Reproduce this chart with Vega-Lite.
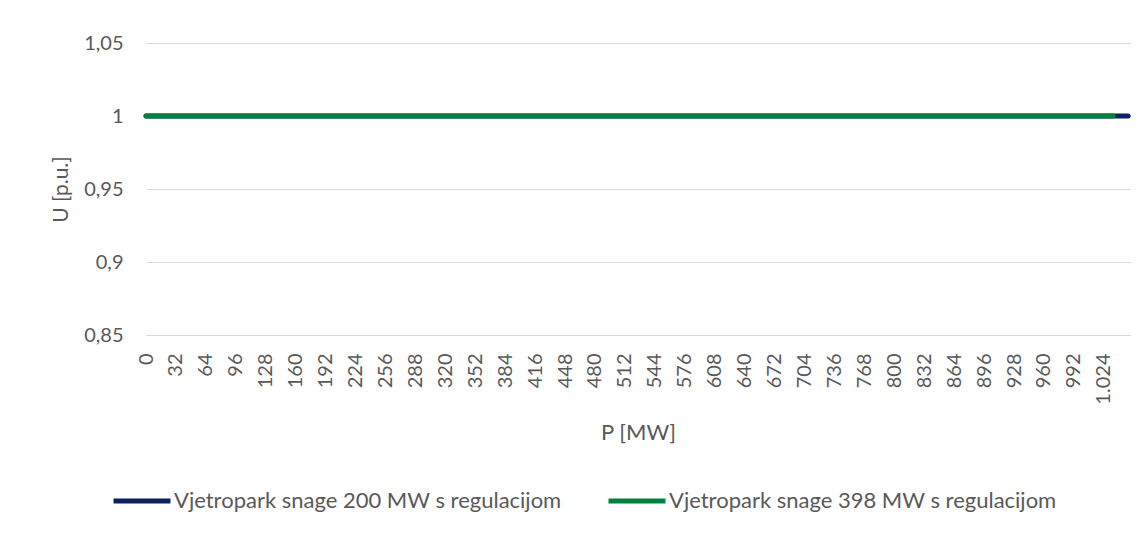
{
  "$schema": "https://vega.github.io/schema/vega-lite/v6.json",
  "width": 984,
  "height": 292,
  "autosize": {"type": "none"},
  "padding": {"left": 146, "top": 43, "right": 17, "bottom": 199},
  "background": "white",
  "data": {
    "values": [
      {"P": 0, "U": 1, "serie": "Vjetropark snage 200 MW s regulacijom"},
      {"P": 128, "U": 1, "serie": "Vjetropark snage 200 MW s regulacijom"},
      {"P": 256, "U": 1, "serie": "Vjetropark snage 200 MW s regulacijom"},
      {"P": 384, "U": 1, "serie": "Vjetropark snage 200 MW s regulacijom"},
      {"P": 512, "U": 1, "serie": "Vjetropark snage 200 MW s regulacijom"},
      {"P": 640, "U": 1, "serie": "Vjetropark snage 200 MW s regulacijom"},
      {"P": 768, "U": 1, "serie": "Vjetropark snage 200 MW s regulacijom"},
      {"P": 896, "U": 1, "serie": "Vjetropark snage 200 MW s regulacijom"},
      {"P": 1024, "U": 1, "serie": "Vjetropark snage 200 MW s regulacijom"},
      {"P": 1050, "U": 1, "serie": "Vjetropark snage 200 MW s regulacijom"},
      {"P": 0, "U": 1, "serie": "Vjetropark snage 398 MW s regulacijom"},
      {"P": 128, "U": 1, "serie": "Vjetropark snage 398 MW s regulacijom"},
      {"P": 256, "U": 1, "serie": "Vjetropark snage 398 MW s regulacijom"},
      {"P": 384, "U": 1, "serie": "Vjetropark snage 398 MW s regulacijom"},
      {"P": 512, "U": 1, "serie": "Vjetropark snage 398 MW s regulacijom"},
      {"P": 640, "U": 1, "serie": "Vjetropark snage 398 MW s regulacijom"},
      {"P": 768, "U": 1, "serie": "Vjetropark snage 398 MW s regulacijom"},
      {"P": 896, "U": 1, "serie": "Vjetropark snage 398 MW s regulacijom"},
      {"P": 1024, "U": 1, "serie": "Vjetropark snage 398 MW s regulacijom"},
      {"P": 1034, "U": 1, "serie": "Vjetropark snage 398 MW s regulacijom"}
    ]
  },
  "mark": {"type": "line", "strokeWidth": 5, "strokeCap": "round"},
  "encoding": {
    "x": {
      "field": "P",
      "type": "quantitative",
      "scale": {"domain": [0, 1052], "nice": false, "zero": false},
      "axis": {
        "title": "P [MW]",
        "values": [0,32,64,96,128,160,192,224,256,288,320,352,384,416,448,480,512,544,576,608,640,672,704,736,768,800,832,864,896,928,960,992,1024],
        "format": ",d",
        "labelExpr": "replace(datum.label, ',', '.')",
        "labelAngle": -90,
        "labelPadding": 18,
        "labelFlush": false,
        "labelOverlap": false,
        "grid": false,
        "ticks": false,
        "domain": true,
        "domainColor": "#d9d9d9",
        "domainWidth": 1,
        "titleY": 87,
        "titleFontSize": 22
      }
    },
    "y": {
      "field": "U",
      "type": "quantitative",
      "scale": {"domain": [0.85, 1.05], "nice": false, "zero": false},
      "axis": {
        "title": "U [p.u.]",
        "values": [0.85, 0.9, 0.95, 1, 1.05],
        "format": ".2~f",
        "labelExpr": "replace(datum.label, '.', ',')",
        "ticks": false,
        "domain": false,
        "grid": true,
        "gridColor": "#d9d9d9",
        "gridWidth": 1,
        "labelPadding": 23,
        "titleX": -85,
        "titleY": 146,
        "titleAlign": "center",
        "titleBaseline": "middle",
        "titleFontSize": 21
      }
    },
    "color": {
      "field": "serie",
      "type": "nominal",
      "scale": {
        "domain": ["Vjetropark snage 200 MW s regulacijom", "Vjetropark snage 398 MW s regulacijom"],
        "range": ["#0b2160", "#00823a"]
      },
      "legend": {
        "title": null,
        "orient": "none",
        "direction": "horizontal",
        "legendX": -35,
        "legendY": 427,
        "symbolType": "stroke",
        "symbolSize": 3249,
        "symbolStrokeWidth": 5,
        "labelOffset": 1,
        "labelFontSize": 22,
        "labelLimit": 0,
        "columnPadding": 36,
        "padding": 0
      }
    }
  },
  "config": {
    "font": "Lato",
    "view": {"stroke": null},
    "axis": {
      "labelFont": "Lato",
      "titleFont": "Lato",
      "labelFontSize": 20,
      "labelColor": "#595959",
      "titleColor": "#595959",
      "titleFontWeight": "normal"
    },
    "legend": {"labelFont": "Lato", "labelColor": "#595959"}
  }
}
